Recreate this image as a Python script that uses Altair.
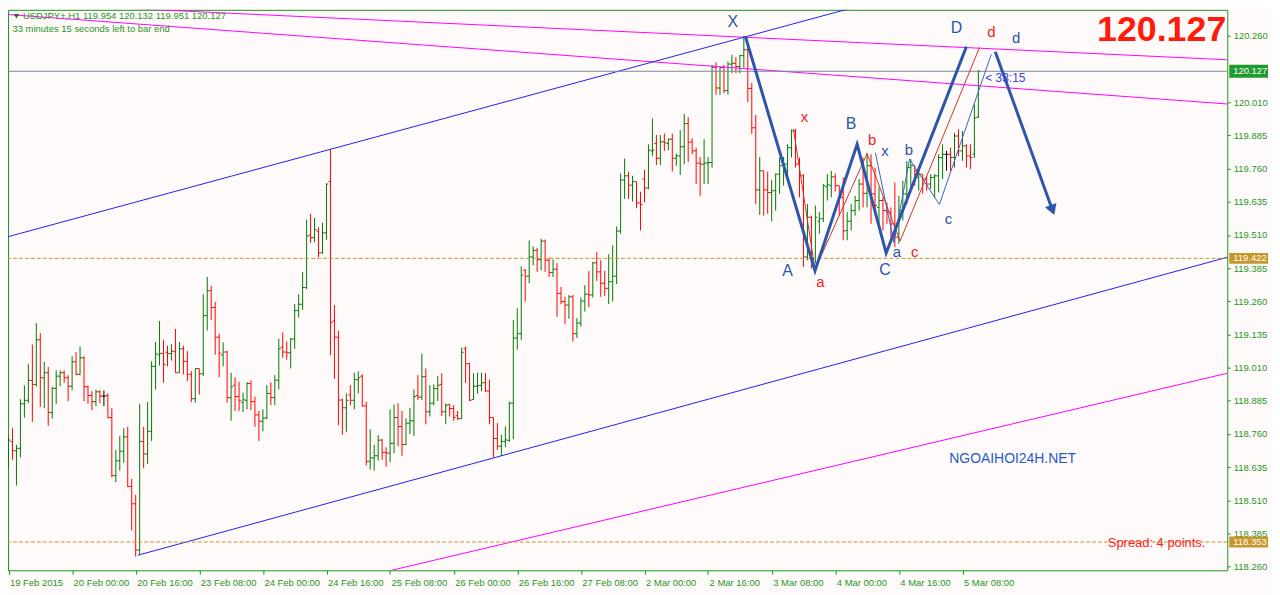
import altair as alt
import pandas as pd
import numpy as np

# ---------------- price data (USDJPY H1, one value per bar) ----------------
OPEN = [118.726,118.731,118.697,118.706,118.874,118.887,118.962,118.947,119.115,118.972,
118.991,118.841,118.932,118.978,118.991,118.972,118.940,119.032,118.985,119.047,
118.938,118.905,118.882,118.919,118.903,118.905,118.822,118.603,118.659,118.695,
118.749,118.562,118.497,118.323,118.732,118.685,118.770,119.015,119.058,119.064,
119.068,119.063,119.072,118.991,119.081,119.034,118.985,118.893,119.007,118.987,
119.206,119.300,119.237,119.125,119.058,119.069,118.897,118.944,118.901,118.880,
118.887,118.950,118.882,118.832,118.808,118.820,118.913,118.897,118.963,119.088,
119.069,119.066,119.118,119.225,119.249,119.312,119.509,119.500,119.524,119.443,
119.518,119.711,119.186,119.125,118.888,118.859,118.907,118.887,118.965,118.978,
118.866,118.657,118.670,118.678,118.737,118.691,118.688,118.725,118.822,118.788,
118.720,118.801,118.810,118.905,118.899,118.976,118.844,118.876,118.931,118.947,
118.844,118.871,118.856,118.829,118.818,119.081,119.025,118.890,118.940,118.943,
118.953,118.922,118.822,118.743,118.714,118.732,118.735,118.876,119.122,119.138,
119.377,119.355,119.427,119.452,119.417,119.487,119.415,119.369,119.381,119.290,
119.259,119.246,119.277,119.138,119.178,119.261,119.287,119.284,119.405,119.371,
119.328,119.309,119.334,119.355,119.525,119.717,119.733,119.698,119.711,119.631,
119.721,119.687,119.827,119.855,119.799,119.861,119.855,119.871,119.799,119.808,
119.843,119.930,119.860,119.827,119.781,119.777,119.781,119.783,120.142,120.064,
120.141,120.054,120.154,120.157,120.145,120.186,120.208,120.062,119.914,119.680,
119.752,119.680,119.670,119.677,119.739,119.771,119.777,119.839,119.902,119.777,
119.733,119.427,119.577,119.421,119.562,119.571,119.692,119.696,119.729,119.696,
119.652,119.527,119.562,119.602,119.640,119.702,119.667,119.771,119.665,119.614,
119.640,119.602,119.596,119.552,119.502,119.602,119.665,119.764,119.771,119.727,
119.739,119.721,119.702,119.727,119.733,119.802,119.814,119.814,119.802,119.883,
119.827,119.846,119.808,119.815,119.954]

HIGH = [118.753,118.782,118.719,118.891,118.943,119.025,119.097,119.178,119.140,119.032,
119.013,118.938,119.000,119.000,119.000,118.981,119.053,119.069,119.090,119.053,
118.943,118.922,118.928,118.925,118.924,118.913,118.857,118.700,118.753,118.782,
118.787,118.591,118.531,118.874,118.787,118.880,119.034,119.107,119.186,119.115,
119.093,119.099,119.156,119.107,119.093,119.072,118.997,119.007,119.007,119.287,
119.352,119.318,119.258,119.138,119.105,119.074,118.991,118.974,118.957,118.916,
118.955,118.962,118.901,118.847,118.853,118.944,118.955,118.982,119.119,119.143,
119.109,119.122,119.250,119.287,119.371,119.568,119.590,119.574,119.539,119.556,
119.704,119.833,119.246,119.149,118.893,118.913,118.944,118.991,118.997,118.985,
118.882,118.778,118.719,118.756,118.741,118.710,118.853,118.872,118.876,118.847,
118.819,118.859,118.928,118.982,119.063,119.007,118.944,118.947,118.978,118.989,
118.876,118.872,118.869,118.847,119.086,119.090,119.028,118.989,118.991,118.991,
118.989,118.965,118.822,118.801,118.757,118.789,118.883,119.190,119.234,119.392,
119.381,119.490,119.467,119.461,119.496,119.493,119.425,119.417,119.404,119.314,
119.277,119.284,119.284,119.197,119.274,119.321,119.374,119.408,119.446,119.415,
119.375,119.437,119.471,119.542,119.742,119.798,119.748,119.733,119.711,119.673,
119.756,119.852,119.949,119.887,119.887,119.893,119.874,119.892,119.817,119.905,
119.966,119.954,119.874,119.839,119.804,119.871,119.804,120.151,120.160,120.142,
120.151,120.164,120.189,120.180,120.189,120.260,120.214,120.083,119.962,119.804,
119.752,119.749,119.718,119.742,119.802,119.804,119.852,119.908,119.910,119.802,
119.739,119.627,119.583,119.621,119.596,119.702,119.739,119.752,119.742,119.696,
119.727,119.596,119.627,119.658,119.721,119.802,119.818,119.814,119.764,119.689,
119.652,119.633,119.614,119.708,119.658,119.714,119.789,119.796,119.771,119.752,
119.739,119.733,119.739,119.739,119.814,119.852,119.827,119.839,119.895,119.908,
119.902,119.852,119.852,120.002,120.132]

LOW = [118.635,118.663,118.566,118.672,118.822,118.876,118.806,118.938,118.862,118.857,
118.791,118.818,118.872,118.940,118.953,118.884,118.925,118.981,118.981,118.884,
118.874,118.850,118.865,118.876,118.865,118.819,118.597,118.579,118.622,118.651,
118.560,118.397,118.298,118.304,118.631,118.647,118.734,118.928,119.018,118.953,
119.015,119.037,118.991,118.991,118.985,118.959,118.880,118.878,118.909,118.978,
119.150,119.190,119.059,118.974,119.015,118.878,118.810,118.847,118.847,118.843,
118.853,118.850,118.787,118.734,118.770,118.816,118.869,118.869,118.928,119.047,
119.040,119.007,119.081,119.199,119.228,119.306,119.480,119.483,119.427,119.440,
119.492,119.057,118.968,118.793,118.757,118.768,118.868,118.853,118.913,118.864,
118.641,118.626,118.622,118.660,118.663,118.637,118.654,118.688,118.714,118.678,
118.719,118.760,118.753,118.888,118.888,118.797,118.826,118.868,118.884,118.828,
118.797,118.826,118.810,118.813,118.816,118.953,118.884,118.889,118.912,118.922,
118.919,118.797,118.672,118.700,118.678,118.710,118.731,118.741,119.078,119.115,
119.259,119.328,119.396,119.371,119.377,119.371,119.352,119.352,119.202,119.249,
119.175,119.194,119.109,119.122,119.165,119.221,119.238,119.274,119.337,119.277,
119.280,119.250,119.259,119.325,119.515,119.646,119.646,119.636,119.611,119.527,
119.633,119.683,119.808,119.774,119.774,119.827,119.830,119.749,119.771,119.736,
119.777,119.785,119.814,119.702,119.656,119.702,119.702,119.764,120.039,120.039,
120.045,120.039,120.120,120.120,120.120,120.141,120.011,119.891,119.627,119.586,
119.583,119.590,119.562,119.602,119.665,119.696,119.727,119.802,119.764,119.652,
119.390,119.415,119.384,119.403,119.515,119.559,119.640,119.652,119.674,119.583,
119.490,119.490,119.527,119.583,119.602,119.614,119.614,119.552,119.602,119.552,
119.527,119.552,119.502,119.465,119.477,119.565,119.627,119.689,119.696,119.677,
119.665,119.677,119.683,119.652,119.671,119.721,119.752,119.752,119.764,119.808,
119.789,119.764,119.758,119.800,119.951]

CLOSE = [118.737,118.697,118.706,118.874,118.887,118.962,118.947,119.115,118.972,118.991,
118.841,118.932,118.978,118.991,118.972,118.940,119.032,118.985,119.047,118.938,
118.905,118.882,118.919,118.903,118.903,118.822,118.603,118.659,118.695,118.749,
118.562,118.497,118.323,118.732,118.685,118.770,119.015,119.062,119.064,119.022,
119.063,119.072,118.991,119.081,119.034,118.985,118.893,119.007,118.987,119.206,
119.300,119.237,119.125,119.065,119.069,118.897,118.938,118.901,118.887,118.889,
118.950,118.882,118.832,118.808,118.820,118.913,118.897,118.963,119.081,119.069,
119.066,119.118,119.225,119.249,119.312,119.506,119.500,119.530,119.443,119.518,
119.702,119.181,119.125,118.888,118.859,118.887,118.887,118.965,118.972,118.866,
118.657,118.670,118.678,118.737,118.691,118.688,118.725,118.822,118.788,118.720,
118.801,118.810,118.901,118.899,118.976,118.844,118.876,118.931,118.944,118.844,
118.868,118.856,118.822,118.818,119.068,119.025,118.887,118.940,118.943,118.953,
118.922,118.822,118.743,118.714,118.732,118.738,118.876,119.122,119.138,119.359,
119.355,119.427,119.452,119.417,119.487,119.415,119.369,119.381,119.290,119.259,
119.246,119.277,119.138,119.178,119.261,119.287,119.284,119.405,119.371,119.328,
119.309,119.334,119.355,119.525,119.717,119.733,119.698,119.711,119.631,119.625,
119.687,119.830,119.830,119.799,119.861,119.858,119.871,119.799,119.808,119.842,
119.930,119.860,119.827,119.781,119.777,119.781,119.783,120.142,120.064,120.141,
120.054,120.154,120.157,120.145,120.186,120.208,120.062,119.914,119.680,119.752,
119.680,119.670,119.677,119.739,119.771,119.777,119.839,119.902,119.777,119.733,
119.427,119.577,119.421,119.577,119.571,119.696,119.700,119.729,119.696,119.652,
119.525,119.562,119.602,119.640,119.702,119.667,119.771,119.665,119.621,119.640,
119.602,119.596,119.552,119.502,119.602,119.665,119.764,119.771,119.752,119.739,
119.721,119.702,119.727,119.733,119.802,119.814,119.814,119.802,119.883,119.827,
119.846,119.808,119.802,119.951,120.127]

# ---------------- axes ----------------
X_TICK_BARS = [0, 16, 32, 48, 64, 80, 96, 112, 128, 144, 160, 176, 192, 208, 224, 240]
X_TICK_LABELS = ["19 Feb 2015", "20 Feb 00:00", "20 Feb 16:00", "23 Feb 08:00",
                 "24 Feb 00:00", "24 Feb 16:00", "25 Feb 08:00", "26 Feb 00:00",
                 "26 Feb 16:00", "27 Feb 08:00", "2 Mar 00:00", "2 Mar 16:00",
                 "3 Mar 08:00", "4 Mar 00:00", "4 Mar 16:00", "5 Mar 08:00"]
Y_TICKS = [118.260, 118.385, 118.510, 118.635, 118.760, 118.885, 119.010, 119.135,
           119.260, 119.385, 119.510, 119.635, 119.760, 119.885, 120.010, 120.260]

# ---------------- drawn objects (bar index, price) ----------------
UPPER_CHANNEL = ([-1.0, 230.0], [119.500, 120.438])
LOWER_CHANNEL = ([32.5, 310.0], [118.303, 119.440])
MAGENTA_1 = ([22.5, 310.0], [120.369, 120.168])
MAGENTA_2 = ([-0.25, 310.0], [120.341, 120.000])
MAGENTA_3 = ([96.25, 310.0], [118.246, 119.001])

WAVE_MAIN = ([185.4, 202.9, 213.5, 220.8, 241.0], [120.258, 119.375, 119.852, 119.442, 120.220])
WAVE_ARROW = ([248.25, 262.5], [120.201, 119.610])
WAVE_RED = ([197.5, 202.9, 216.0, 224.3, 244.3], [119.908, 119.380, 119.817, 119.487, 120.217])
WAVE_BLUE = ([218.1, 222.75, 226.7, 234.2, 247.25], [119.820, 119.482, 119.796, 119.625, 120.191])

BLUE_LABELS = (["X", "A", "B", "C", "D", "d", "x", "a", "b", "c"],
               [182.25, 196.0, 212.0, 220.5, 238.5, 253.5, 220.5, 223.5, 226.5, 236.5],
               [120.314, 119.374, 119.928, 119.377, 120.291, 120.254, 119.827, 119.445, 119.831, 119.572])
RED_LABELS = (["x", "a", "b", "c", "d"],
              [200.25, 204.25, 217.25, 228.0, 247.25],
              [119.954, 119.332, 119.868, 119.445, 120.276])

BID = 120.127
DASHED_LEVELS = [119.422, 118.353]

GREEN = "#1E961E"
BAR_UP = "#007A00"
BAR_DOWN = "#FF0000"
WAVE_COL = "#2B56AA"
LABEL_RED = "#E8261E"
FONT = "Liberation Sans"

# ---------------- frames ----------------
bars = pd.DataFrame({"i": np.arange(len(OPEN)), "o": OPEN, "h": HIGH, "l": LOW, "c": CLOSE})
bars["dir"] = np.where(bars.c > bars.o, "up", np.where(bars.c < bars.o, "down", "flat"))
bars["il"] = bars["i"] - 0.5
bars["ir"] = bars["i"] + 0.5

xs = alt.Scale(domain=[-0.125, 306.625], nice=False, zero=False)
ys = alt.Scale(domain=[118.2464, 120.3585], nice=False, zero=False)

label_expr = "[" + ",".join("'%s'" % s for s in X_TICK_LABELS) + "][round(datum.value/16)]"
x_axis = alt.Axis(values=X_TICK_BARS, labelExpr=label_expr, grid=False, domain=False,
                  tickColor=GREEN, tickSize=4, labelColor=GREEN, labelFont=FONT,
                  labelFontSize=9.5, labelAlign="left", labelBaseline="top",
                  labelPadding=3, labelOffset=1, labelOverlap=False, labelFlush=False,
                  title=None)
y_axis = alt.Axis(orient="right", values=Y_TICKS, format=".3f", grid=False, domain=False,
                  tickColor=GREEN, tickSize=3, labelColor=GREEN, labelFont=FONT,
                  labelFontSize=9.5, labelPadding=3, title=None)


def X(field):
    return alt.X(field, scale=xs, axis=x_axis)


def Y(field):
    return alt.Y(field, scale=ys, axis=y_axis)


color = alt.Color("dir:N", scale=alt.Scale(domain=["up", "down", "flat"],
                                           range=[BAR_UP, BAR_DOWN, "#000000"]), legend=None)

hl = alt.Chart(bars).mark_rule(strokeWidth=1).encode(x=X("i:Q"), y=Y("l:Q"), y2="h:Q", color=color)
otick = alt.Chart(bars).mark_rule(strokeWidth=1).encode(x=X("il:Q"), x2="i:Q", y=Y("o:Q"), color=color)
ctick = alt.Chart(bars).mark_rule(strokeWidth=1).encode(x=X("i:Q"), x2="ir:Q", y=Y("c:Q"), color=color)


def path_df(pairs):
    rows = []
    for name, (ii, pp) in pairs.items():
        for k, (a, b) in enumerate(zip(ii, pp)):
            rows.append({"name": name, "k": k, "i": a, "p": b})
    return pd.DataFrame(rows)


def lines(df, col, width):
    return alt.Chart(df).mark_line(color=col, strokeWidth=width, clip=True).encode(
        x=X("i:Q"), y=Y("p:Q"), detail="name:N", order="k:Q")


channel = lines(path_df({"up": UPPER_CHANNEL, "lo": LOWER_CHANNEL}), "#2020F0", 1)
magenta = lines(path_df({"m1": MAGENTA_1, "m2": MAGENTA_2, "m3": MAGENTA_3}), "#FF00FF", 1)
wave_red = lines(path_df({"r": WAVE_RED}), "#C8362A", 1)
wave_blue = lines(path_df({"b": WAVE_BLUE}), "#3A62C4", 1)
wave_main = lines(path_df({"w": WAVE_MAIN, "arrow": WAVE_ARROW}), WAVE_COL, 3)

arrow_head = alt.Chart(pd.DataFrame({"i": [WAVE_ARROW[0][-1]], "p": [WAVE_ARROW[1][-1]]})).mark_point(
    shape="triangle", filled=True, size=150, angle=160, color=WAVE_COL, opacity=1).encode(
    x=X("i:Q"), y=Y("p:Q"))

bid_line = alt.Chart(pd.DataFrame({"p": [BID]})).mark_rule(color="#7A8696", strokeWidth=1).encode(
    y=Y("p:Q"))
dashed = alt.Chart(pd.DataFrame({"p": DASHED_LEVELS})).mark_rule(
    color="#C8962A", strokeWidth=1, strokeDash=[4, 2]).encode(y=Y("p:Q"))


def labels(names, ii, pp, col):
    df = pd.DataFrame({"t": names, "i": ii, "p": pp})
    df["fs"] = [16 if n.isupper() else 15 for n in names]
    return alt.Chart(df).mark_text(font=FONT, color=col, align="center", baseline="middle").encode(
        x=X("i:Q"), y=Y("p:Q"), text="t:N", size=alt.Size("fs:Q", scale=None, legend=None))


blue_labels = labels(*BLUE_LABELS, WAVE_COL)
red_labels = labels(*RED_LABELS, LABEL_RED)

timer = alt.Chart(pd.DataFrame({"i": [245.75], "p": [120.100], "t": ["< 33:15"]})).mark_text(
    font=FONT, fontSize=12, color="#3C3CE6", align="left", baseline="middle").encode(
    x=X("i:Q"), y=Y("p:Q"), text="t:N")

# price boxes on the right axis
boxes_df = pd.DataFrame({"p": [BID] + DASHED_LEVELS,
                         "t": ["%.3f" % BID] + ["%.3f" % v for v in DASHED_LEVELS],
                         "col": ["#1F9A2E", "#C8962A", "#C8962A"],
                         "bh": [13, 11, 11]})
boxes = alt.Chart(boxes_df).mark_rule(strokeCap="butt").encode(
    x=alt.value(1229), x2=alt.value(1268), y=Y("p:Q"), color=alt.Color("col:N", scale=None),
    strokeWidth=alt.StrokeWidth("bh:Q", scale=None, legend=None))
box_text = alt.Chart(boxes_df).mark_text(font=FONT, fontSize=9.5, color="white",
                                         align="left", baseline="middle").encode(
    x=alt.value(1233), y=Y("p:Q"), text="t:N")

one = pd.DataFrame({"a": [0]})
hdr1 = alt.Chart(one).mark_text(font=FONT, fontSize=9.5, color=GREEN, align="left", baseline="middle",
                                text="USDJPY+,H1  119.954 120.132 119.951 120.127").encode(
    x=alt.value(15), y=alt.value(6.5))
hdr2 = alt.Chart(one).mark_text(font=FONT, fontSize=9.5, color=GREEN, align="left", baseline="middle",
                                text="33 minutes 15 seconds left to bar end").encode(
    x=alt.value(4.5), y=alt.value(19))
tri = alt.Chart(one).mark_point(shape="triangle-down", filled=True, size=28, color="#1B6E1B", opacity=1).encode(
    x=alt.value(8.5), y=alt.value(6.5))
big = alt.Chart(one).mark_text(font=FONT, fontSize=36, fontWeight="bold", color="#FF1A0A",
                               align="right", baseline="middle", text="120.127").encode(
    x=alt.value(1226), y=alt.value(20))
brand = alt.Chart(one).mark_text(font=FONT, fontSize=14, color="#1F5BC4", align="center",
                                 baseline="middle", text="NGOAIHOI24H.NET").encode(
    x=alt.value(1011), y=alt.value(452))
spread = alt.Chart(one).mark_text(font=FONT, fontSize=13, color="#FF2020", align="right",
                                  baseline="middle", text="Spread: 4 points.").encode(
    x=alt.value(1205), y=alt.value(537))

chart = alt.layer(
    hl, otick, ctick, magenta, channel, bid_line, dashed,
    wave_red, wave_blue, wave_main, arrow_head,
    blue_labels, red_labels, timer, boxes, box_text,
    hdr1, hdr2, tri, big, brand, spread
).properties(
    width=1227, height=564,
    padding={"left": 0, "top": 0, "right": 45, "bottom": 23},
    autosize=alt.AutoSizeParams(type="none"),
).configure(background="#FFFAFA").configure_view(stroke=GREEN, strokeWidth=1, fill="#FFFAFA")

chart.save("out.html", embed_options={"renderer": "svg", "actions": False})
